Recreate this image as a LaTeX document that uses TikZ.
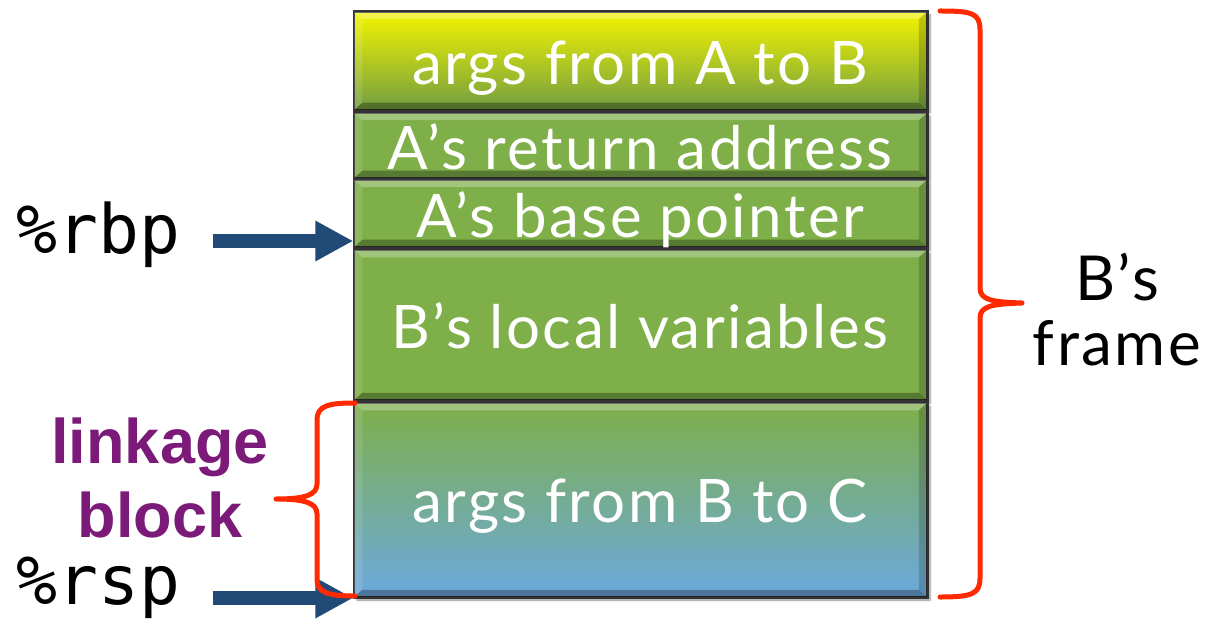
\documentclass[tikz,border=0pt]{standalone}
\usepackage{fontspec}
\setmainfont{Lato}
\setmonofont{DejaVu Sans Mono}
\newfontfamily\labelfont{Liberation Sans}
\newfontfamily\slotfont[LetterSpace=4]{Lato}
\usetikzlibrary{arrows.meta,shadows.blur}

\definecolor{arrowblue}{HTML}{214B76}
\definecolor{bracered}{HTML}{FF2A00}
\definecolor{linkpurple}{HTML}{7B1A78}
\definecolor{slotgreen}{HTML}{7EAF48}
\definecolor{slotyellow}{HTML}{F4F400}
\definecolor{slotblue}{HTML}{6CA9DE}

\tikzset{
  slot/.style={draw=black!80, line width=1.5pt, minimum width=573pt,
    inner sep=0pt,
    blur shadow={shadow xshift=3pt, shadow yshift=-3pt, shadow blur steps=6,
      shadow opacity=45}},
  greenslot/.style={slot, fill=slotgreen},
  slottext/.style={text=white, font=\slotfont\fontsize{60}{64}\selectfont,
    anchor=base, inner sep=0pt},
  ptrarrow/.style={arrowblue, line width=14pt,
    -{Triangle[length=38pt,width=38pt]}},
  brace/.style={bracered, line width=5pt, line cap=round, line join=round},
  reglabel/.style={font=\ttfamily\fontsize{68}{68}\selectfont, anchor=base west,
    inner sep=0pt},
}

% bevelled edges of a stack slot
\newcommand{\bevelslot}[1]{%
  \fill[white, opacity=0.28]
    (#1.north west) -- (#1.north east) -- ([xshift=-9pt,yshift=-8pt]#1.north east)
    -- ([xshift=9pt,yshift=-8pt]#1.north west) -- cycle;
  \fill[black, opacity=0.30]
    (#1.south west) -- (#1.south east) -- ([xshift=-9pt,yshift=8pt]#1.south east)
    -- ([xshift=9pt,yshift=8pt]#1.south west) -- cycle;
  \fill[white, opacity=0.12]
    (#1.north west) -- ([xshift=9pt,yshift=-8pt]#1.north west)
    -- ([xshift=9pt,yshift=8pt]#1.south west) -- (#1.south west) -- cycle;
  \fill[black, opacity=0.18]
    (#1.north east) -- ([xshift=-9pt,yshift=-8pt]#1.north east)
    -- ([xshift=-9pt,yshift=8pt]#1.south east) -- (#1.south east) -- cycle;
  \draw[black!80, line width=1.5pt] (#1.north west) rectangle (#1.south east);
}

\begin{document}
\begin{tikzpicture}[x=1pt, y=-1pt]
\useasboundingbox (0,0) rectangle (1222,620);

% stack slots, top to bottom
\node[slot, minimum height=98pt, top color=slotyellow, bottom color=slotgreen!90!black]
  (argsAB) at (640.5,61) {};
\node[greenslot, minimum height=65pt] (retaddr) at (640.5,145.5) {};
\node[greenslot, minimum height=67pt] (basept) at (640.5,213.5) {};
\node[greenslot, minimum height=150pt] (locals) at (640.5,325) {};
\node[slot, minimum height=194pt, top color=slotgreen, bottom color=slotblue]
  (argsBC) at (640.5,500) {};

\bevelslot{argsAB}
\bevelslot{retaddr}
\bevelslot{basept}
\bevelslot{locals}
\bevelslot{argsBC}

\node[slottext] (tAB) at (640,85) {args from A to B};
\node[slottext] (tret) at (640,170) {A’s return address};
\node[slottext] (tbase) at (640,237) {A’s base pointer};
\node[slottext] (tloc) at (640,348) {B’s local variables};
\node[slottext] (tBC) at (640,522) {args from B to C};

% register labels and pointers
\node[reglabel] (rbp) at (16,253) {\%rbp};
\node[reglabel] (rsp) at (16,604) {\%rsp};
\coordinate (rbpstart) at (213,241);
\coordinate (rspstart) at (213,598);
\draw[ptrarrow] (rbpstart) -- (rbpstart -| basept.west);
\draw[ptrarrow] (rspstart) -- (rspstart -| argsBC.west);

% brace over the whole frame of B
\coordinate (ftop) at (940,11);
\coordinate (ftip) at (1022,303);
\coordinate (fbot) at (940,597);
\draw[brace] (ftop) .. controls (972,11) and (980,13) .. (980,30)
  -- (980,288) .. controls (980,300) and (992,302) .. (ftip)
  .. controls (992,304) and (980,306) .. (980,318)
  -- (980,578) .. controls (980,594) and (972,597) .. (fbot);
\node[font=\slotfont\fontsize{62}{65}\selectfont, align=center, inner sep=0pt,
  anchor=base] (frame) at (1117,365) {B’s\\frame};

% brace over the linkage block
\coordinate (ltop) at (355,403);
\coordinate (ltip) at (276,499);
\coordinate (lbot) at (355,596);
\draw[brace] (ltop) .. controls (330,403) and (317,405) .. (317,420)
  -- (317,484) .. controls (317,495) and (305,499) .. (ltip)
  .. controls (305,499) and (317,503) .. (317,514)
  -- (317,580) .. controls (317,593) and (330,596) .. (lbot);
\node[font=\labelfont\bfseries\fontsize{63}{74}\selectfont,
  text=linkpurple, align=center, inner sep=0pt, anchor=base]
  (linkage) at (160,537) {linkage\\block};

\end{tikzpicture}
\end{document}
